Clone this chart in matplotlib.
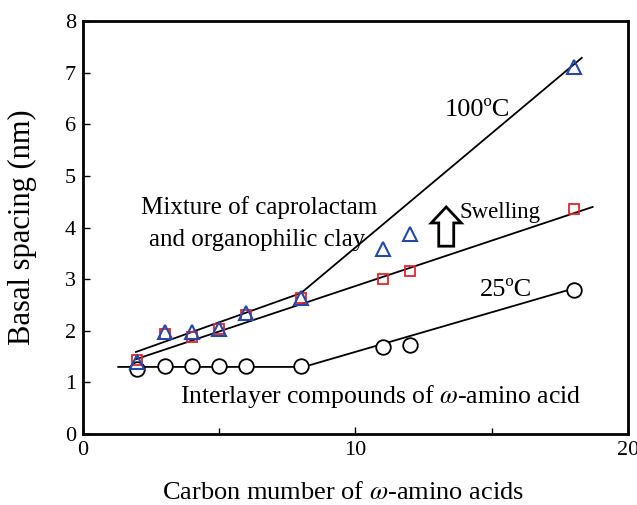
#!/usr/bin/env python3
"""Basal spacing vs carbon number of omega-amino acids."""
import matplotlib
matplotlib.use("Agg")
import matplotlib.pyplot as plt
from matplotlib.patches import FancyArrow
from matplotlib.ticker import MultipleLocator

plt.rcParams['font.family'] = ['Liberation Serif', 'DejaVu Serif']
plt.rcParams['mathtext.fontset'] = 'stix'

# data
carbon_25 = [2, 3, 4, 5, 6, 8, 11, 12, 18]
spacing_25 = [1.26, 1.32, 1.32, 1.32, 1.32, 1.32, 1.69, 1.72, 2.79]

carbon_mix = [2, 3, 4, 5, 6, 8, 11, 12, 18]
spacing_mix = [1.43, 1.94, 1.88, 2.03, 2.30, 2.63, 3.00, 3.16, 4.36]

carbon_100 = [2, 3, 4, 5, 6, 8, 11, 12, 18]
spacing_100 = [1.40, 1.97, 1.98, 2.03, 2.35, 2.63, 3.58, 3.88, 7.11]

# guide lines (vertices)
line_25_x = [1.3, 8.1, 18.0]
line_25_y = [1.30, 1.30, 2.82]
line_mix_x = [1.95, 18.7]
line_mix_y = [1.45, 4.40]
line_100_x = [1.95, 8.0, 18.3]
line_100_y = [1.59, 2.73, 7.29]

fig = plt.figure(figsize=(6.37, 5.05), dpi=100)
ax = fig.add_axes([0.130, 0.1406, 0.856, 0.8174])

ax.plot(line_25_x, line_25_y, color='black', lw=1.3, zorder=2)
ax.plot(line_mix_x, line_mix_y, color='black', lw=1.3, zorder=2)
ax.plot(line_100_x, line_100_y, color='black', lw=1.3, zorder=2)

ax.plot(carbon_25, spacing_25, 'o', ms=10.5, mfc='white', mec='black', mew=1.3, zorder=3)
ax.plot(carbon_mix, spacing_mix, 's', ms=7, mfc='none', mec='#e0262b', mew=1.3, zorder=3)
ax.plot(carbon_100, spacing_100, '^', ms=10.5, mfc='none', mec='#2448a8', mew=1.5, zorder=4)

ax.set_xlim(0, 20)
ax.set_ylim(0, 8)
ax.xaxis.set_major_locator(MultipleLocator(10))
ax.xaxis.set_minor_locator(MultipleLocator(5))
ax.yaxis.set_major_locator(MultipleLocator(1))
ax.tick_params(which='both', direction='in', top=False, right=False, labelsize=16, pad=5)
ax.tick_params(which='major', length=5, width=1)
ax.tick_params(which='minor', length=4, width=1)
for sp in ax.spines.values():
    sp.set_linewidth(2)

ax.set_xlabel(r'Carbon mumber of $\omega$-amino acids', fontsize=19, va='center')
ax.xaxis.set_label_coords(0.477, -0.143)
ax.set_ylabel('Basal spacing (nm)', fontsize=22, va='center')
ax.yaxis.set_label_coords(-0.110, 0.5)

ax.text(14.46, 6.28, '100ºC', fontsize=19, ha='center', va='center')
ax.text(6.48, 4.38, 'Mixture of caprolactam', fontsize=18, ha='center', va='center')
ax.text(6.38, 3.76, 'and organophilic clay', fontsize=18, ha='center', va='center')
ax.text(13.8, 4.30, 'Swelling', fontsize=16.5, ha='left', va='center')
ax.text(15.53, 2.79, '25ºC', fontsize=19, ha='center', va='center')
ax.text(10.92, 0.72, r'Interlayer compounds of $\omega$-amino acid', fontsize=18.5,
        ha='center', va='center')

ax.add_patch(FancyArrow(13.33, 3.64, 0, 0.76, width=0.55, head_width=1.1,
                        head_length=0.31, length_includes_head=True,
                        fc='white', ec='black', lw=2, zorder=3))

fig.savefig('out.png', dpi=100)
